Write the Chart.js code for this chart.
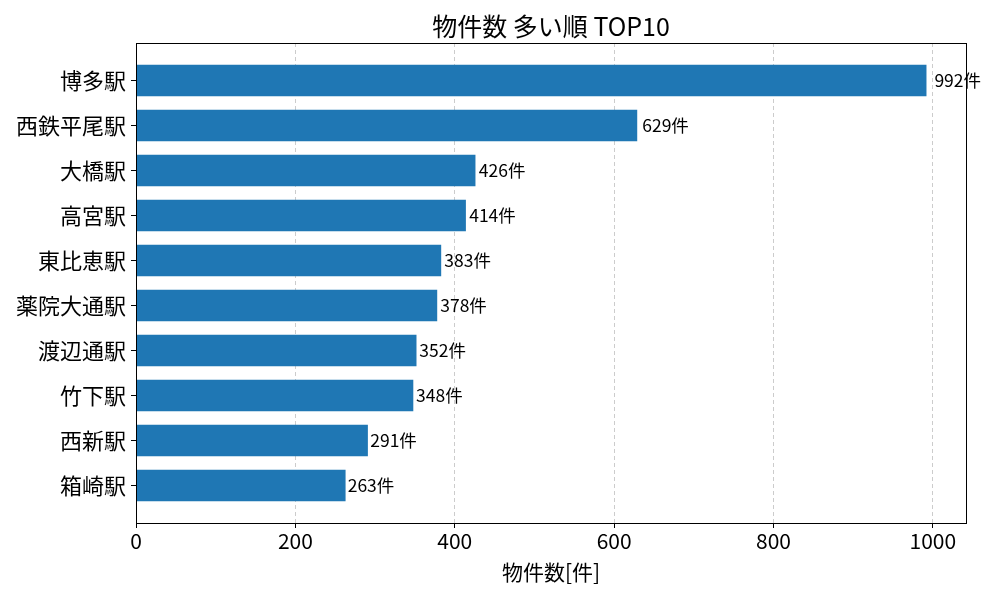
<!DOCTYPE html>
<html>
<head>
<meta charset="utf-8">
<script src="https://cdn.jsdelivr.net/npm/chart.js@4"></script>
<style>
  body { margin: 0; background: #fff; }
  #wrap { width: 1000px; height: 600px; }
</style>
</head>
<body>
<div id="wrap"><canvas id="chart"></canvas></div>
<script>
//*Data
const titleText = '物件数 多い順 TOP10';
const stations = ['博多駅', '西鉄平尾駅', '大橋駅', '高宮駅', '東比恵駅', '薬院大通駅', '渡辺通駅', '竹下駅', '西新駅', '箱崎駅'];
const counts = [992, 629, 426, 414, 383, 378, 352, 348, 291, 263];
const xTicks = [0, 200, 400, 600, 800, 1000];

const FONT = '"Noto Sans CJK JP", "Noto Sans", sans-serif';
Chart.defaults.font.family = FONT;
Chart.defaults.color = '#000';

//*Value labels just past each bar (1% of its value)
const valueLabels = {
  id: 'valueLabels',
  afterDatasetsDraw(chart) {
    const ctx = chart.ctx;
    const meta = chart.getDatasetMeta(0);
    const xs = chart.scales.x;
    ctx.save();
    ctx.font = '17.5px ' + FONT;
    ctx.fillStyle = '#000';
    ctx.textAlign = 'left';
    ctx.textBaseline = 'middle';
    meta.data.forEach((bar, i) => {
      ctx.fillText(`${counts[i]}件`, xs.getPixelForValue(counts[i] * 1.01), bar.y);
    });
    ctx.restore();
  }
};

//*Frame round the plot + title centred over the plot area
const frame = {
  id: 'frame',
  afterDraw(chart) {
    const a = chart.chartArea;
    const ctx = chart.ctx;
    ctx.save();
    ctx.strokeStyle = '#000';
    ctx.lineWidth = 1;
    ctx.strokeRect(Math.round(a.left) + 0.5, Math.round(a.top) + 0.5,
      Math.round(a.right - a.left), Math.round(a.bottom - a.top));
    ctx.font = '25px ' + FONT;
    ctx.fillStyle = '#000';
    ctx.textAlign = 'center';
    ctx.textBaseline = 'middle';
    ctx.fillText(titleText, (a.left + a.right) / 2, 26);
    ctx.restore();
  }
};

new Chart(document.getElementById('chart'), {
  type: 'bar',
  data: {
    datasets: [{
      data: counts.map((v, i) => ({ x: v, y: i })),
      backgroundColor: '#1f77b4',
      borderWidth: 0,
      categoryPercentage: 1,
      barPercentage: 0.7
    }]
  },
  options: {
    indexAxis: 'y',
    responsive: true,
    maintainAspectRatio: false,
    animation: false,
    layout: { padding: { left: 0, right: 34, top: 43, bottom: 0 } },
    plugins: {
      legend: { display: false },
      tooltip: { enabled: false },
      title: { display: false }
    },
    scales: {
      x: {
        type: 'linear',
        min: 0,
        max: 1041.6,
        afterBuildTicks: s => { s.ticks = xTicks.map(v => ({ value: v })); },
        afterFit: s => { s.height = 77; },
        ticks: { font: { size: 21 }, color: '#000', padding: 0, callback: v => String(v) },
        grid: {
          color: '#cccccc',
          lineWidth: 1,
          tickColor: '#000',
          tickLength: 5,
          tickBorderDash: []
        },
        border: { display: true, color: '#000', width: 1, dash: [4, 3] },
        title: {
          display: true,
          text: '物件数[件]',
          color: '#000',
          font: { size: 21 },
          padding: { top: 0, bottom: 15 }
        }
      },
      y: {
        type: 'linear',
        reverse: true,
        offset: false,
        min: -0.835,
        max: 9.835,
        afterBuildTicks: s => { s.ticks = stations.map((n, i) => ({ value: i })); },
        afterFit: s => { s.width = 136; },
        ticks: {
          font: { size: 22 },
          color: '#000',
          padding: 5,
          callback: v => stations[v]
        },
        grid: {
          offset: false,
          drawOnChartArea: false,
          drawTicks: true,
          tickColor: '#000',
          tickLength: 5
        },
        border: { display: true, color: '#000', width: 1 }
      }
    }
  },
  plugins: [valueLabels, frame]
});
</script>
</body>
</html>
